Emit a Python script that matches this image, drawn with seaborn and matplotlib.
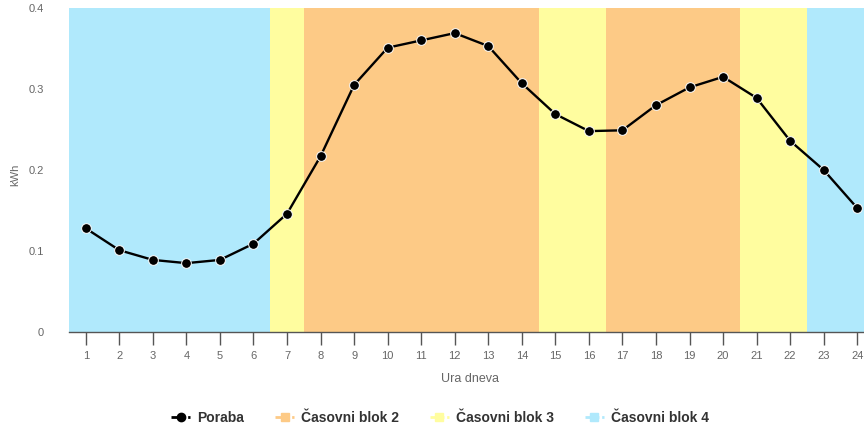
import numpy as np
import pandas as pd
import matplotlib
matplotlib.use("Agg")
import matplotlib.pyplot as plt
from matplotlib.lines import Line2D
import seaborn as sns

hours = list(range(1, 25))
poraba = [0.128, 0.101, 0.089, 0.085, 0.089, 0.109, 0.146, 0.217, 0.305, 0.351,
          0.360, 0.369, 0.353, 0.307, 0.269, 0.248, 0.249, 0.280, 0.302, 0.315,
          0.289, 0.236, 0.200, 0.153]
blocks = [4, 4, 4, 4, 4, 4, 3, 2, 2, 2, 2, 2, 2, 2, 3, 3, 2, 2, 2, 2, 3, 3, 4, 4]
block_names = {2: "Časovni blok 2", 3: "Časovni blok 3", 4: "Časovni blok 4"}
block_colors = {2: "#fdca86", 3: "#fffd9f", 4: "#b0e9fc"}
y_max = 0.4
y_ticks = [0, 0.1, 0.2, 0.3, 0.4]
y_ticklabels = ["0", "0.1", "0.2", "0.3", "0.4"]

sns.set_style("white")
plt.rcParams["font.family"] = ["Liberation Sans", "DejaVu Sans"]

fig = plt.figure(figsize=(8.64, 4.29), dpi=100)
ax = fig.add_axes([69 / 864, 1 - 332 / 429, 805 / 864, 324 / 429])

# background bands, one bar per hour coloured by block
bands = pd.DataFrame({"ura": hours, "h": [y_max] * len(hours), "blok": blocks})
for b, sub in bands.groupby("blok"):
    ax.bar(sub["ura"], sub["h"], width=1.0, color=block_colors[b],
           edgecolor="none", zorder=0)

df = pd.DataFrame({"ura": hours, "kwh": poraba})
sns.lineplot(data=df, x="ura", y="kwh", ax=ax, color="black", lw=1.7,
             marker="o", markersize=7, markeredgecolor="white",
             markeredgewidth=0.7, zorder=3)

ax.set_xlim(0.5, 24.5)
ax.set_ylim(0, y_max)
ax.set_xticks(hours)
ax.set_xticklabels([str(h) for h in hours], fontsize=8, color="#666666")
ax.set_yticks(y_ticks)
ax.set_yticklabels(y_ticklabels, fontsize=8, color="#666666")
ax.tick_params(axis="x", length=9, width=1, color="#555555", pad=5,
               direction="out", bottom=True)
ax.tick_params(axis="y", length=0, pad=18)
for s in ["top", "right", "left"]:
    ax.spines[s].set_visible(False)
ax.spines["bottom"].set_color("#555555")
ax.spines["bottom"].set_linewidth(1)

ax.set_xlabel("")
ax.set_ylabel("")
fig.text(470 / 864, 1 - 379 / 429, "Ura dneva", ha="center", va="center",
         fontsize=9, color="#666666")
fig.text(15 / 864, 1 - 175 / 429, "kWh", ha="center", va="center",
         rotation=90, fontsize=8, color="#666666")

handles = [Line2D([0], [0], color="black", lw=2, ls="--", marker="o",
                  markersize=6, dashes=(2, 1))]
labels = ["Poraba"]
for b in [2, 3, 4]:
    handles.append(Line2D([0], [0], color=block_colors[b], lw=2, ls="--",
                          marker="s", markersize=6, dashes=(2, 1)))
    labels.append(block_names[b])
fig.legend(handles, labels, loc="center", bbox_to_anchor=(440 / 864, 1 - 418 / 429),
           ncol=4, frameon=False, handlelength=1.4, handletextpad=0.5,
           columnspacing=2.2, prop={"size": 10, "weight": "bold"},
           labelcolor="#333333")

fig.savefig("out.png", dpi=100)
